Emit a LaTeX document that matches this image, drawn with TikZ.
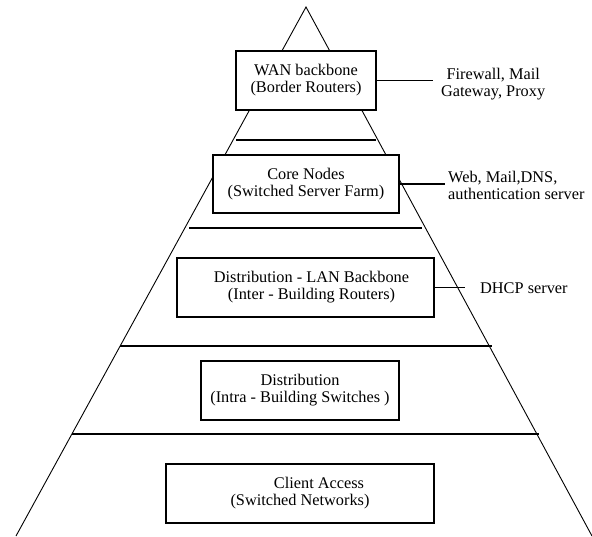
\documentclass[tikz,border=0pt]{standalone}
\usepackage{fontspec}
\setmainfont{Liberation Serif}
\begin{document}
\begin{tikzpicture}[x=1pt,y=-1pt,
  side/.style={line width=0.9pt},
  layer/.style={line width=1.4pt},
  box/.style={draw, line width=1.1pt, fill=white, align=center, inner sep=0pt,
    font=\fontsize{16.3}{17}\selectfont},
  lbl/.style={inner ysep=0pt, font=\fontsize{16.3}{17}\selectfont},
  conn/.style={line width=1.3pt}]
\useasboundingbox (0,0) rectangle (592,536);
% pyramid
\coordinate (apex) at (306,7);
\coordinate (bl) at (16,536);
\coordinate (br) at (592,536);
\draw[side] (bl) -- (apex) -- (br);
% layer lines
\draw[layer] (236,140) -- (376,140);
\draw[layer] (189,228) -- (422,228);
\draw[layer] (120,346) -- (492,346);
\draw[layer] (72,434) -- (539,434);
% boxes
\node[box, minimum width=140pt, minimum height=59pt] (wan) at (306,80.5)
  {WAN backbone\\(Border Routers)};
\node[box, minimum width=186pt, minimum height=58pt] (core) at (306,184)
  {Core Nodes\\(Switched Server Farm)};
\node[box, minimum width=257pt, minimum height=59pt] (lan) at (305.5,287.5)
  {\hspace*{12pt}Distribution - LAN Backbone\\\hspace*{12pt}(Inter - Building Routers)};
\node[box, minimum width=198pt, minimum height=59pt] (intra) at (300,390.5)
  {Distribution\\(Intra - Building Switches )};
\node[box, minimum width=268pt, minimum height=59pt] (client) at (300,493.5)
  {\hspace*{38pt}Client Access\\(Switched Networks)};
% side labels
\node[lbl, anchor=west, inner xsep=8pt, align=center] (fw) at (433,84.5)
  {Firewall, Mail\\Gateway, Proxy};
\node[lbl, anchor=west, inner xsep=3pt, align=left] (srv) at (445,185)
  {Web, Mail,DNS,\\authentication server};
\node[lbl, anchor=west, inner xsep=15pt] (dhcp) at (465,288)
  {DHCP server};
% connectors
\draw[conn] (wan.east) -- (wan.east -| fw.west);
\draw[conn] (core.east) -- (core.east -| srv.west);
\draw[conn] (lan.east) -- (lan.east -| dhcp.west);
\end{tikzpicture}
\end{document}
